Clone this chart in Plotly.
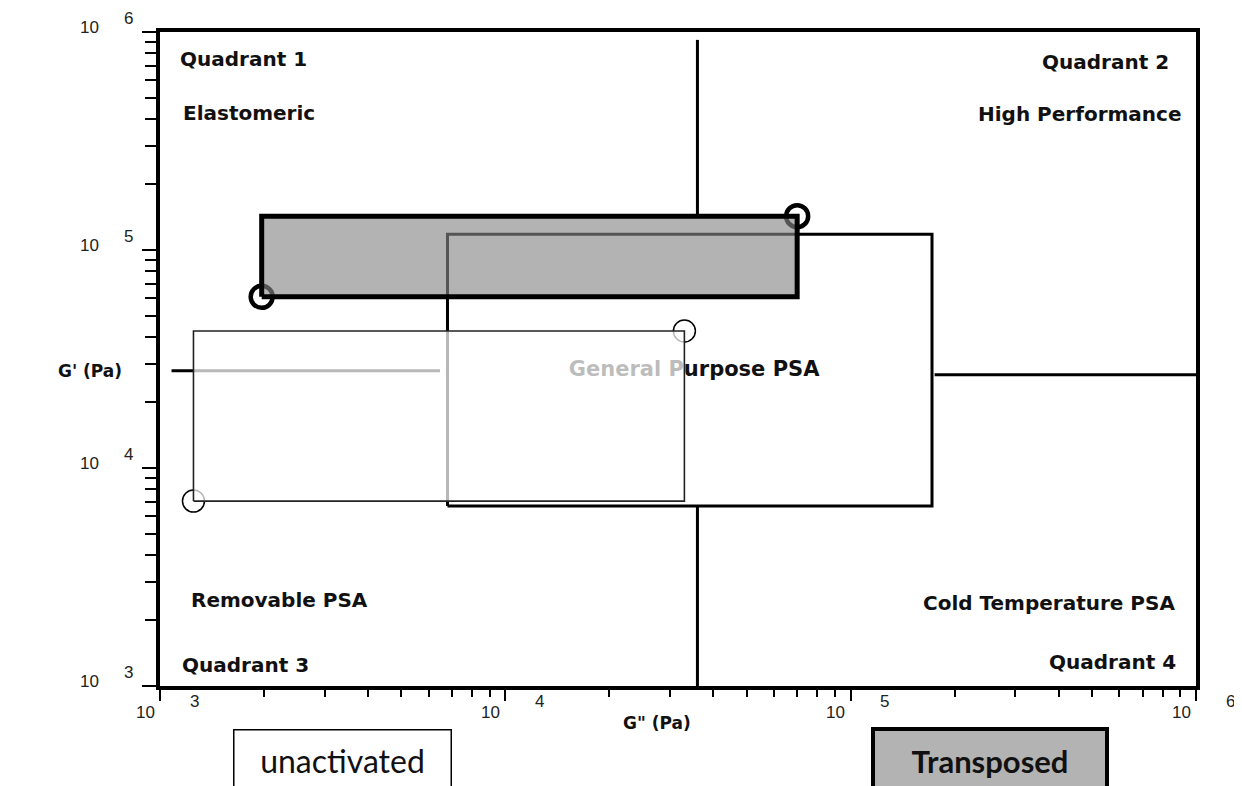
import plotly.graph_objects as go
import numpy as np

# ---------------- data ----------------
# quadrant boundary segments (G'' , G')
hline_left_gpp = [1.08e3, 6.47e3]
hline_left_gp = 2.79e4
hline_right_gpp = [1.75e5, 1.05e6]
hline_right_gp = 2.68e4
vline_gpp = 3.6e4
vline_top_gp = [1.43e5, 9.2e5]
vline_bot_gp = [1.0e3, 6.7e3]

# General Purpose PSA window
gp_gpp = [6.8e3, 1.72e5]
gp_gp = [6.7e3, 1.18e5]
# Transposed window
trans_gpp = [1.97e3, 7.0e4]
trans_gp = [6.1e4, 1.43e5]
# Unactivated window
unact_gpp = [1.25e3, 3.3e4]
unact_gp = [7.05e3, 4.25e4]

# end points (circles)
trans_pts_gpp = [1.97e3, 7.0e4]
trans_pts_gp = [6.1e4, 1.43e5]
unact_pts_gpp = [1.25e3, 3.3e4]
unact_pts_gp = [7.05e3, 4.25e4]

major_ticks = [1e3, 1e4, 1e5, 1e6]
tick_exps = ["3", "4", "5", "6"]
minor_ticks = [m * 10 ** e for e in (3, 4, 5) for m in range(2, 10)]

gp_label = "General Purpose PSA"
gp_label_pos = (3.52e4, 2.79e4)

# ---------------- figure ----------------
OFF = 8  # page body margin
W, H = 1242, 786
PLOT_L, PLOT_R, PLOT_T, PLOT_B = 160, 1196, 32, 686  # on-screen plot area
PW, PH = PLOT_R - PLOT_L, PLOT_B - PLOT_T
L, T = PLOT_L - OFF, PLOT_T - OFF
R, B = W - L - PW, H - T - PH


def px(x):
    return (x - PLOT_L) / PW


def py(y):
    return (PLOT_B - y) / PH


def rect(xr, yr):
    return [xr[0], xr[1], xr[1], xr[0], xr[0]], [yr[0], yr[0], yr[1], yr[1], yr[0]]


fig = go.Figure()

# boundary segments
seg_x = hline_left_gpp + [None] + hline_right_gpp + [None] + [vline_gpp, vline_gpp] + [None] + [vline_gpp, vline_gpp]
seg_y = [hline_left_gp] * 2 + [None] + [hline_right_gp] * 2 + [None] + vline_top_gp + [None] + vline_bot_gp
fig.add_trace(go.Scatter(x=seg_x, y=seg_y, mode="lines", connectgaps=False,
                         line=dict(color="black", width=3), hoverinfo="skip", showlegend=False))

# general purpose box
xs, ys = rect(gp_gpp, gp_gp)
fig.add_trace(go.Scatter(x=xs, y=ys, mode="lines",
                         line=dict(color="black", width=3), hoverinfo="skip", showlegend=False))

fig.add_trace(go.Scatter(x=[gp_label_pos[0]], y=[gp_label_pos[1]], mode="text", text=[gp_label],
                         textposition="middle center",
                         textfont=dict(family="DejaVu Sans", size=21, color="#111111", weight="bold"),
                         hoverinfo="skip", showlegend=False))

# transposed circles + box
fig.add_trace(go.Scatter(x=trans_pts_gpp, y=trans_pts_gp, mode="markers",
                         marker=dict(symbol="circle-open", size=22, color="black", line=dict(width=4.5)),
                         hoverinfo="skip", showlegend=False))
xs, ys = rect(trans_gpp, trans_gp)
fig.add_trace(go.Scatter(x=xs, y=ys, mode="lines", fill="toself", fillcolor="rgba(135,135,135,0.63)",
                         line=dict(color="black", width=5), hoverinfo="skip", showlegend=False))

# unactivated circles + box
fig.add_trace(go.Scatter(x=unact_pts_gpp, y=unact_pts_gp, mode="markers",
                         marker=dict(symbol="circle-open", size=22, color="black", line=dict(width=1.5)),
                         hoverinfo="skip", showlegend=False))
xs, ys = rect(unact_gpp, unact_gp)
fig.add_trace(go.Scatter(x=xs, y=ys, mode="lines", fill="toself", fillcolor="rgba(255,255,255,0.72)",
                         line=dict(color="#222222", width=1.6), hoverinfo="skip", showlegend=False))

annots = []
lab_font = dict(family="DejaVu Sans", size=20, color="#111111", weight="bold")
for text, x, y, anchor in [
    ("Quadrant 1", 178, 59, "left"),
    ("Elastomeric", 181, 113, "left"),
    ("Quadrant 2", 1171, 62, "right"),
    ("High Performance", 1184, 114, "right"),
    ("Removable PSA", 189, 600, "left"),
    ("Quadrant 3", 180, 665, "left"),
    ("Cold Temperature PSA", 1177, 603, "right"),
    ("Quadrant 4", 1178, 662, "right"),
]:
    annots.append(dict(text=text, x=px(x), y=py(y), xref="paper", yref="paper",
                       xanchor=anchor, yanchor="middle", showarrow=False, font=lab_font))

ax_font = dict(family="DejaVu Sans", size=17, color="#111111", weight="bold")
annots.append(dict(text="G' (Pa)", x=px(90), y=py(371), xref="paper", yref="paper",
                   xanchor="center", yanchor="middle", showarrow=False, font=ax_font))
annots.append(dict(text='G" (Pa)', x=px(657), y=py(723), xref="paper", yref="paper",
                   xanchor="center", yanchor="middle", showarrow=False, font=ax_font))

tick_font = dict(family="Liberation Sans", size=17, color="#222222")
for v, e in zip(major_ticks, tick_exps):
    lv = np.log10(v)
    # x axis labels
    annots.append(dict(text="10", x=lv, xref="x", y=0, yref="paper", xshift=-15, yshift=-26,
                       xanchor="center", yanchor="middle", showarrow=False, font=tick_font))
    annots.append(dict(text=e, x=lv, xref="x", y=0, yref="paper", xshift=34, yshift=-15,
                       xanchor="center", yanchor="middle", showarrow=False, font=tick_font))
    # y axis labels
    annots.append(dict(text="10", x=0, xref="paper", y=lv, yref="y", xshift=-71, yshift=5,
                       xanchor="center", yanchor="middle", showarrow=False, font=tick_font))
    annots.append(dict(text=e, x=0, xref="paper", y=lv, yref="y", xshift=-32, yshift=14,
                       xanchor="center", yanchor="middle", showarrow=False, font=tick_font))

# legend boxes below the chart
annots.append(dict(text="unactivated", x=px(342), y=py(760), xref="paper", yref="paper",
                   xanchor="center", yanchor="middle", showarrow=False, width=216, height=60,
                   bgcolor="white", bordercolor="black", borderwidth=1.5, borderpad=0,
                   font=dict(family="Lato", size=32, color="#111111")))
annots.append(dict(text="<b>Transposed</b>", x=px(989.5), y=py(761), xref="paper", yref="paper",
                   xanchor="center", yanchor="middle", showarrow=False, width=230, height=60,
                   bgcolor="#b3b3b3", bordercolor="black", borderwidth=4, borderpad=0,
                   font=dict(family="Lato", size=31, color="#111111")))

axis_common = dict(type="log", range=[3, 6], showline=True, linecolor="black", linewidth=4,
                   mirror=True, showgrid=False, zeroline=False, showticklabels=False,
                   tickvals=major_ticks, ticks="outside", tickcolor="black", tickwidth=2)

fig.update_layout(
    width=W, height=H,
    margin=dict(l=L, r=R, t=T, b=B),
    paper_bgcolor="white", plot_bgcolor="white",
    xaxis=dict(**axis_common, ticklen=11,
               minor=dict(tickvals=minor_ticks, ticks="outside", ticklen=7, tickwidth=2, tickcolor="black")),
    yaxis=dict(**axis_common, ticklen=14,
               minor=dict(tickvals=minor_ticks, ticks="outside", ticklen=11, tickwidth=2, tickcolor="black")),
    annotations=annots,
    showlegend=False,
)

fig.write_html("out.html")
